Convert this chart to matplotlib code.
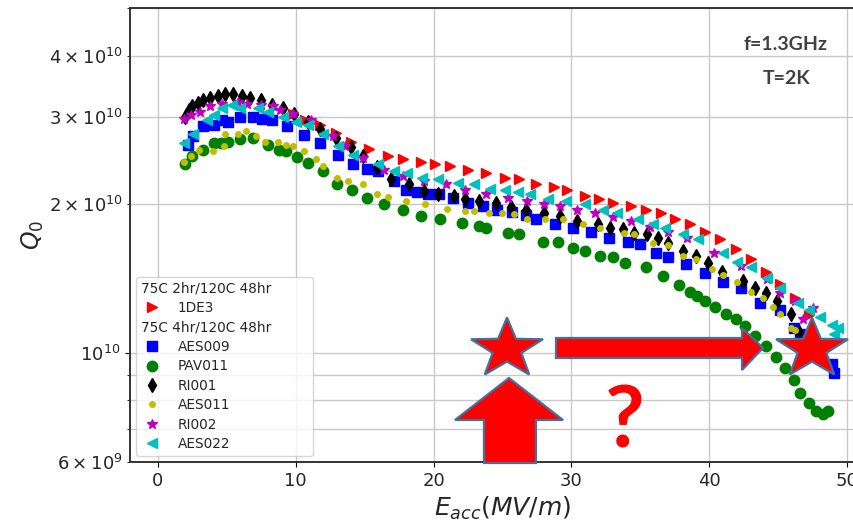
import matplotlib
matplotlib.use("Agg")
import matplotlib.pyplot as plt
from matplotlib.lines import Line2D
from matplotlib.patches import Polygon
from matplotlib.offsetbox import DrawingArea
import numpy as np

# ---------------- data (E in MV/m, Q0 in units of 1e10) ----------------
E_1DE3 = [9.8, 10.7, 11.8, 12.9, 14.0, 15.3, 16.7, 17.8, 19.1, 20.1, 21.2, 22.5, 23.8, 25.2,
          26.2, 27.4, 28.7, 29.7, 31.0, 32.0, 33.0, 34.3, 35.4, 36.5, 37.5, 38.6, 39.7, 40.8,
          41.9, 43.0, 44.1, 45.1, 46.2, 47.2]
Q_1DE3 = [3.05, 2.97, 2.89, 2.79, 2.68, 2.59, 2.50, 2.47, 2.44, 2.41, 2.39, 2.35, 2.31, 2.26,
          2.25, 2.20, 2.17, 2.14, 2.08, 2.05, 2.01, 1.98, 1.95, 1.92, 1.87, 1.82, 1.76, 1.70,
          1.62, 1.55, 1.46, 1.38, 1.29, 1.19]

E_AES009 = [2.2, 2.6, 3.3, 4.1, 4.7, 5.1, 6.0, 6.9, 7.6, 8.3, 9.4, 10.6, 11.8, 13.1, 14.2,
            15.2, 16.0, 17.1, 18.0, 18.8, 19.6, 20.4, 21.4, 22.5, 23.6, 24.6, 25.7, 26.7,
            27.4, 28.8, 30.1, 31.4, 32.7, 34.1, 35.0, 36.1, 37.0, 38.3, 39.7, 41.0, 42.3,
            43.7, 45.1, 46.1, 46.6, 47.7, 48.9, 49.0]
Q_AES009 = [2.64, 2.75, 2.88, 2.90, 2.97, 2.94, 3.01, 3.01, 2.98, 2.96, 2.88, 2.76, 2.66,
            2.52, 2.41, 2.36, 2.33, 2.23, 2.14, 2.12, 2.10, 2.10, 2.06, 2.01, 1.98, 1.95,
            1.93, 1.90, 1.87, 1.82, 1.79, 1.76, 1.71, 1.68, 1.66, 1.59, 1.56, 1.51, 1.45,
            1.39, 1.35, 1.26, 1.22, 1.12, 1.09, 1.03, 0.95, 0.91]

E_PAV011 = [2.0, 2.5, 3.3, 4.1, 4.6, 5.1, 6.0, 6.9, 8.0, 8.8, 9.3, 10.1, 10.9, 12.0, 13.0,
            14.1, 15.2, 16.4, 17.8, 19.1, 20.5, 22.1, 23.3, 23.8, 25.4, 26.2, 27.9, 29.0,
            30.1, 31.0, 32.1, 33.0, 33.9, 35.4, 36.6, 37.8, 38.6, 39.1, 39.7, 40.4, 41.2,
            41.9, 42.6, 43.3, 44.1, 44.8, 45.5, 46.1, 46.6, 47.2, 47.7, 48.2, 48.6]
Q_PAV011 = [2.41, 2.50, 2.58, 2.66, 2.66, 2.68, 2.71, 2.72, 2.64, 2.58, 2.56, 2.49, 2.42,
            2.33, 2.20, 2.14, 2.06, 2.00, 1.95, 1.89, 1.87, 1.83, 1.81, 1.79, 1.75, 1.74,
            1.68, 1.68, 1.63, 1.61, 1.57, 1.56, 1.52, 1.49, 1.43, 1.37, 1.33, 1.30, 1.27,
            1.24, 1.20, 1.17, 1.13, 1.08, 1.03, 0.98, 0.93, 0.88, 0.83, 0.79, 0.76, 0.75,
            0.76]

E_RI001 = [2.0, 2.3, 2.5, 2.9, 3.3, 3.8, 4.4, 4.9, 5.5, 6.1, 6.7, 7.5, 8.3, 9.1, 9.9, 10.9,
           11.8, 12.9, 14.0, 14.9, 15.9, 16.9, 18.2, 19.3, 20.3, 21.5, 22.3, 23.3, 24.5,
           25.6, 26.7, 28.0, 29.2, 30.4, 31.9, 32.8, 33.7, 34.5, 35.5, 36.3, 37.0, 38.1,
           39.0, 39.9, 40.9, 42.4, 43.3, 44.1, 44.9, 45.9, 46.5]
Q_RI001 = [3.01, 3.11, 3.17, 3.21, 3.26, 3.29, 3.32, 3.34, 3.34, 3.31, 3.29, 3.25, 3.18,
           3.13, 3.05, 2.93, 2.84, 2.72, 2.61, 2.50, 2.38, 2.25, 2.20, 2.13, 2.10, 2.08,
           2.05, 2.03, 2.01, 1.97, 1.95, 1.92, 1.89, 1.85, 1.82, 1.79, 1.78, 1.75, 1.74,
           1.71, 1.67, 1.61, 1.57, 1.52, 1.46, 1.40, 1.35, 1.32, 1.27, 1.20, 1.10]

E_AES011 = [1.9, 2.4, 3.0, 4.0, 4.8, 4.9, 5.8, 6.4, 7.1, 7.8, 8.7, 9.3, 9.8, 10.6, 11.5, 12.0,
            13.0, 13.8, 14.9, 15.9, 16.7, 18.0, 19.4, 21.0, 22.3, 22.9, 24.0, 25.0, 25.8,
            26.8, 28.1, 29.4, 30.8, 32.1, 33.8, 34.5, 35.9, 37.0, 38.1, 39.0, 40.2, 41.0,
            42.0, 43.0, 43.9, 44.6, 45.1, 45.9, 46.2]
Q_AES011 = [2.44, 2.50, 2.58, 2.56, 2.62, 2.77, 2.78, 2.81, 2.75, 2.68, 2.68, 2.64, 2.62,
            2.56, 2.47, 2.39, 2.26, 2.23, 2.20, 2.10, 2.07, 2.03, 2.00, 1.96, 1.94, 1.94,
            1.92, 1.92, 1.91, 1.87, 1.87, 1.87, 1.82, 1.79, 1.75, 1.74, 1.67, 1.65, 1.57,
            1.55, 1.48, 1.44, 1.39, 1.33, 1.29, 1.24, 1.20, 1.12, 1.11]

E_RI002 = [1.9, 2.4, 3.1, 3.8, 4.7, 5.8, 6.5, 7.5, 8.4, 8.9, 9.8, 11.1, 12.7, 13.6, 14.9,
           16.4, 17.8, 19.3, 20.9, 22.3, 23.8, 25.4, 26.8, 28.0, 29.2, 30.4, 31.7, 33.0,
           34.3, 35.7, 37.0, 38.4, 40.3, 42.3, 44.2, 45.1, 46.2, 46.8, 47.5]
Q_RI002 = [2.98, 3.04, 3.08, 3.16, 3.20, 3.23, 3.20, 3.18, 3.16, 3.11, 3.05, 2.97, 2.75,
           2.62, 2.48, 2.35, 2.28, 2.23, 2.20, 2.14, 2.10, 2.06, 2.03, 2.00, 1.98, 1.95,
           1.92, 1.88, 1.85, 1.80, 1.76, 1.71, 1.59, 1.50, 1.41, 1.32, 1.27, 1.17, 1.23]

E_AES022 = [1.9, 2.6, 3.6, 4.1, 4.7, 5.4, 6.0, 7.3, 8.0, 9.1, 10.0, 10.9, 12.0, 13.1, 14.2,
            16.0, 17.1, 18.1, 19.2, 20.3, 21.8, 22.9, 24.1, 25.2, 26.1, 27.0, 28.3, 29.6,
            31.0, 32.3, 33.3, 34.8, 35.9, 36.8, 38.1, 39.2, 41.0, 42.0, 43.0, 44.2, 45.1,
            46.4, 47.2, 48.0, 48.9, 49.3, 49.0]
Q_AES022 = [2.66, 2.78, 2.97, 3.04, 3.13, 3.18, 3.13, 3.13, 3.08, 3.01, 2.94, 2.90, 2.77,
            2.62, 2.52, 2.41, 2.33, 2.31, 2.26, 2.25, 2.21, 2.20, 2.15, 2.14, 2.12, 2.10,
            2.05, 2.03, 2.00, 1.95, 1.92, 1.87, 1.82, 1.79, 1.74, 1.70, 1.59, 1.53, 1.49,
            1.42, 1.35, 1.26, 1.22, 1.18, 1.14, 1.12, 1.09]

Q_UNIT = 1e10

group_headers = ["75C 2hr/120C 48hr", "75C 4hr/120C 48hr"]
ann_top = ["f=1.3GHz", "T=2K"]

series = [
    ("1DE3", E_1DE3, Q_1DE3, ">", "r", 7),
    ("AES009", E_AES009, Q_AES009, "s", "b", 6.5),
    ("PAV011", E_PAV011, Q_PAV011, "o", "g", 7.5),
    ("RI001", E_RI001, Q_RI001, "d", "k", 7.5),
    ("AES011", E_AES011, Q_AES011, ".", "y", 8),
    ("RI002", E_RI002, Q_RI002, "*", "m", 7.5),
    ("AES022", E_AES022, Q_AES022, "<", "c", 7),
]

W, H = 854, 522
fig = plt.figure(figsize=(W / 100, H / 100), dpi=100)
ax = fig.add_axes([130 / W, 60 / H, 745 / W, 454 / H])

handles = {}
for name, e, q, mk, col, ms in series:
    (ln,) = ax.plot(e, np.array(q) * Q_UNIT, linestyle="none", marker=mk, color=col,
                    markersize=ms, label=name)
    handles[name] = ln

ax.set_yscale("log")
ax.set_ylim(6e9, 5e10)
ax.set_xlim(-2, 52)
ax.set_xticks([0, 10, 20, 30, 40, 50])
ax.grid(True, which="both", color="#c8c8c8", linewidth=1.0)
ax.tick_params(which="both", labelsize=13, labelcolor="#262626")
for sp in ax.spines.values():
    sp.set_linewidth(1.4)
    sp.set_color("#333333")
ax.set_xlabel("$E_{acc}(MV/m)$", fontsize=18, color="#262626")
ax.set_ylabel("$Q_0$", fontsize=17, color="#262626", labelpad=2)

blank1 = Line2D([], [], linestyle="none", marker=None)
blank2 = Line2D([], [], linestyle="none", marker=None)
leg_handles = [blank1, handles["1DE3"], blank2] + \
              [handles[n] for n in ["AES009", "PAV011", "RI001", "AES011", "RI002", "AES022"]]
leg_labels = [group_headers[0], "1DE3", group_headers[1],
              "AES009", "PAV011", "RI001", "AES011", "RI002", "AES022"]
FS = 9.8
HL, HTP = 1.7, 1.0
leg = ax.legend(leg_handles, leg_labels, loc="lower left", fontsize=FS,
                labelspacing=0.4, borderpad=0.35, handletextpad=HTP,
                handlelength=HL, borderaxespad=0.45)
for t in leg.get_texts():
    t.set_color("#262626")
for vpack in leg._legend_handle_box.get_children():
    for i, hpack in enumerate(vpack.get_children()):
        if i in (0, 2):
            hpack.get_children()[0].set_width(0)
            hpack.sep = 0
            hpack.get_children().append(DrawingArea((HL + HTP) * FS, 0))

# ---- overlay annotations (figure pixel coordinates) ----
def fpt(x, y):
    return (x / W, 1 - y / H)

fig.text(*fpt(786, 44), ann_top[0], ha="center", va="center", fontsize=14,
         fontweight="bold", family="Lato", color="#404040")
fig.text(*fpt(787, 78), ann_top[1], ha="center", va="center", fontsize=14,
         fontweight="bold", family="Lato", color="#404040")

EDGE = "#41719C"

def star(cx, cy, r, sx=1.2, inner=0.4):
    pts = []
    for k in range(10):
        ang = np.pi / 2 + k * np.pi / 5
        rr = r if k % 2 == 0 else r * inner
        pts.append(fpt(cx + sx * rr * np.cos(ang), cy - rr * np.sin(ang)))
    return pts

for cx in (507, 812):
    fig.add_artist(Polygon(star(cx, 349, 31.5), closed=True, facecolor="red",
                           edgecolor=EDGE, linewidth=1.6, transform=fig.transFigure))

right_arrow = [fpt(556, 338), fpt(742, 338), fpt(742, 328), fpt(763, 348),
               fpt(742, 370), fpt(742, 358), fpt(556, 358)]
fig.add_artist(Polygon(right_arrow, closed=True, facecolor="red", edgecolor=EDGE,
                       linewidth=1.6, transform=fig.transFigure))

up_arrow = [fpt(484, 463), fpt(484, 420), fpt(455, 420), fpt(509, 378),
            fpt(563, 420), fpt(536, 420), fpt(536, 463)]
fig.add_artist(Polygon(up_arrow, closed=True, facecolor="red", edgecolor=EDGE,
                       linewidth=1.6, transform=fig.transFigure))

fig.text(*fpt(625, 423), "?", ha="center", va="center", fontsize=62,
         fontweight="bold", family="Lato", color="red")

fig.savefig("out.png", dpi=100)
